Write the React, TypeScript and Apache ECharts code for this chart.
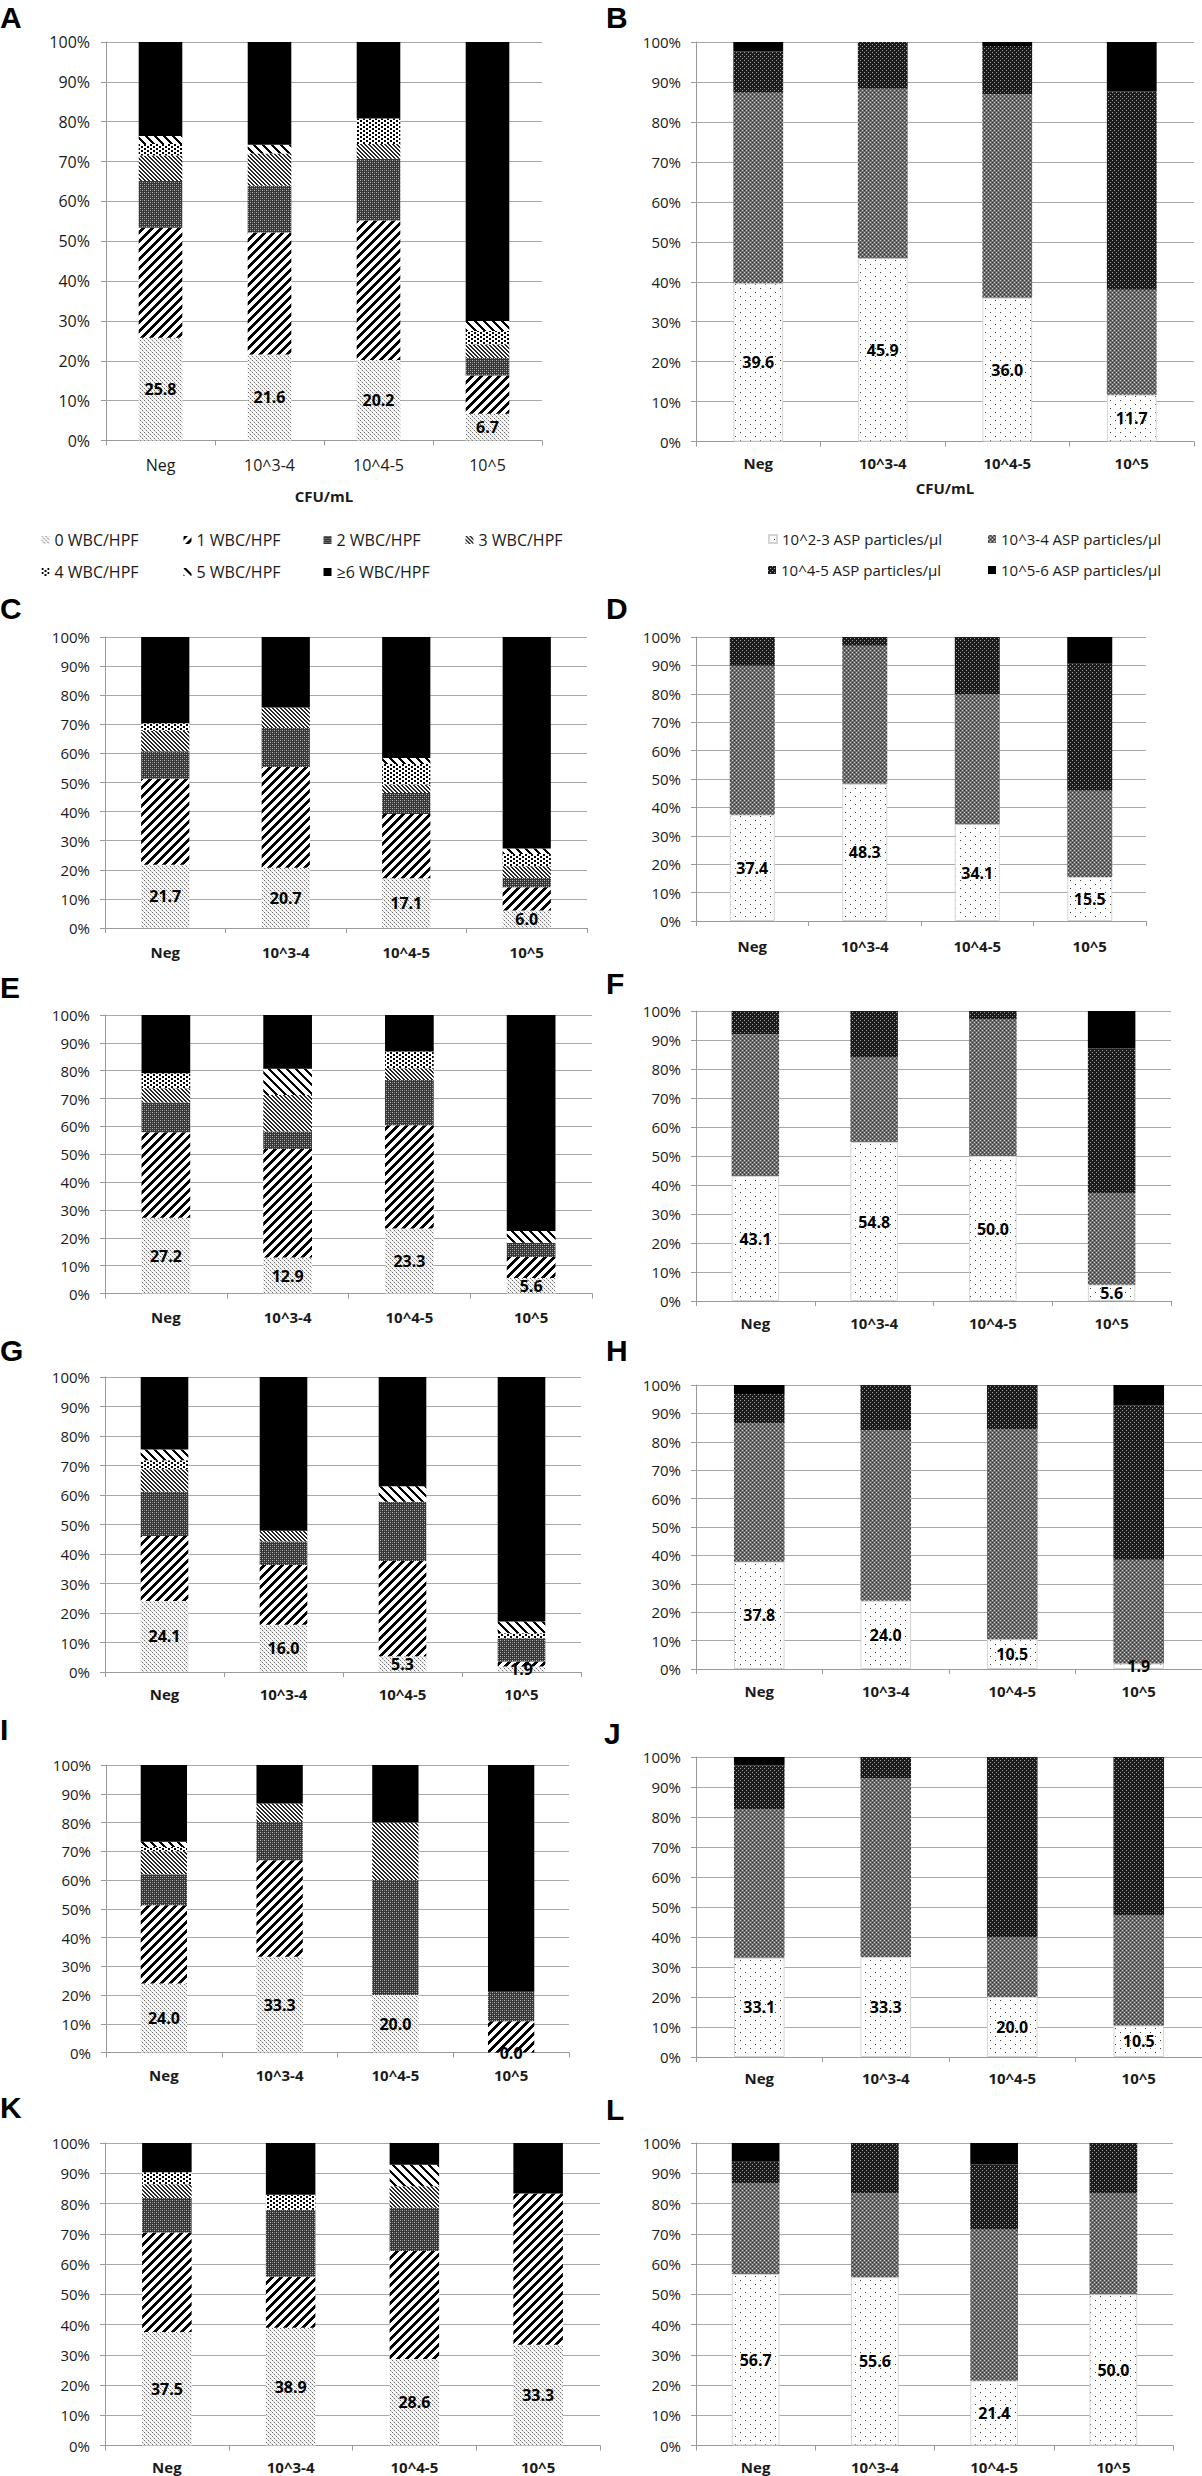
import React, { useEffect, useRef } from "react";
import * as echarts from "echarts";

// ---------- data ----------
const categories = ["Neg", "10^3-4", "10^4-5", "10^5"];
const wbcNames = ["0 WBC/HPF", "1 WBC/HPF", "2 WBC/HPF", "3 WBC/HPF", "4 WBC/HPF", "5 WBC/HPF", "≥6 WBC/HPF"];
const aspNames = ["10^2-3 ASP particles/μl", "10^3-4 ASP particles/μl", "10^4-5 ASP particles/μl", "10^5-6 ASP particles/μl"];

// rows = series (bottom to top), columns = categories
const wbcA = [
  [25.8, 21.6, 20.2, 6.7],
  [27.6, 30.6, 35.0, 9.6],
  [11.7, 11.7, 15.5, 4.4],
  [6.4, 8.1, 3.7, 3.4],
  [2.9, 0, 6.4, 3.4],
  [2.0, 2.2, 0, 2.5],
  [23.6, 25.8, 19.2, 70.0],
];
const aspB = [
  [39.6, 45.9, 36.0, 11.7],
  [47.7, 42.4, 50.9, 26.3],
  [10.3, 11.7, 12.1, 49.6],
  [2.4, 0, 1.0, 12.4],
];
const wbcC = [
  [21.7, 20.7, 17.1, 6.0],
  [29.6, 34.6, 22.1, 8.0],
  [9.4, 13.4, 7.2, 3.2],
  [7.1, 7.1, 2.9, 4.0],
  [2.6, 0, 7.1, 4.2],
  [0, 0, 2.0, 1.9],
  [29.6, 24.2, 41.6, 72.7],
];
const aspD = [
  [37.4, 48.3, 34.1, 15.5],
  [52.5, 48.6, 45.8, 30.4],
  [10.1, 3.1, 20.1, 44.7],
  [0, 0, 0, 9.4],
];
const wbcE = [
  [27.2, 12.9, 23.3, 5.6],
  [30.7, 39.0, 37.1, 7.5],
  [10.7, 6.3, 16.3, 5.1],
  [5.1, 13.1, 4.2, 0],
  [5.4, 0, 6.0, 0],
  [0, 9.4, 0, 4.2],
  [20.9, 19.3, 13.1, 77.6],
];
const aspF = [
  [43.1, 54.8, 50.0, 5.6],
  [48.9, 29.2, 47.2, 31.6],
  [8.0, 16.0, 2.8, 49.9],
  [0, 0, 0, 12.9],
];
const wbcG = [
  [24.1, 16.0, 5.3, 1.9],
  [22.0, 20.3, 32.3, 1.7],
  [15.0, 7.9, 20.1, 7.8],
  [7.6, 3.7, 0, 0],
  [3.1, 0, 0, 1.7],
  [3.6, 0, 5.3, 4.0],
  [24.6, 52.1, 37.0, 82.9],
];
const aspH = [
  [37.8, 24.0, 10.5, 1.9],
  [48.7, 60.1, 74.0, 36.6],
  [10.3, 15.9, 15.5, 54.4],
  [3.2, 0, 0, 7.1],
];
const wbcI = [
  [24.0, 33.3, 20.0, 0.0],
  [27.2, 33.6, 0, 10.9],
  [10.8, 13.3, 40.0, 10.2],
  [8.0, 6.4, 20.0, 0],
  [1.5, 0, 0, 0],
  [1.8, 0, 0, 0],
  [26.7, 13.4, 20.0, 78.9],
];
const aspJ = [
  [33.1, 33.3, 20.0, 10.5],
  [49.5, 59.5, 20.0, 36.7],
  [14.6, 7.2, 60.0, 52.8],
  [2.8, 0, 0, 0],
];
const wbcK = [
  [37.5, 38.9, 28.6, 33.3],
  [32.9, 16.9, 35.7, 50.0],
  [11.4, 22.1, 14.3, 0],
  [4.6, 0, 7.1, 0],
  [3.9, 5.0, 0, 0],
  [0, 0, 7.1, 0],
  [9.7, 17.1, 7.2, 16.7],
];
const aspL = [
  [56.7, 55.6, 21.4, 50.0],
  [30.1, 27.8, 50.0, 33.3],
  [7.0, 16.6, 21.5, 16.7],
  [6.2, 0, 7.1, 0],
];

// ---------- layout ----------
const FONT = '"Open Sans", "Noto Sans", sans-serif';
type Panel = {
  letter: string; kind: "wbc" | "asp"; values: number[][];
  left: number; top: number; width: number; height: number;
  lx: number; ly: number; xm: number; xfs: number; xbold: boolean; yfs: number; ym: number;
};
const panels: Panel[] = [
  { letter: "A", kind: "wbc", values: wbcA, left: 106, top: 42, width: 436, height: 398.5, lx: 0, ly: 17.5, xm: 16, xfs: 16, xbold: false, yfs: 16, ym: 16 },
  { letter: "B", kind: "asp", values: aspB, left: 696, top: 42, width: 498, height: 399.6, lx: 606, ly: 17.5, xm: 14, xfs: 15, xbold: true, yfs: 15, ym: 15 },
  { letter: "C", kind: "wbc", values: wbcC, left: 105, top: 637, width: 482, height: 291, lx: 0, ly: 608.5, xm: 16, xfs: 15, xbold: true, yfs: 15, ym: 15 },
  { letter: "D", kind: "asp", values: aspD, left: 696, top: 637, width: 450, height: 284, lx: 606, ly: 608.5, xm: 17, xfs: 15, xbold: true, yfs: 15, ym: 15 },
  { letter: "E", kind: "wbc", values: wbcE, left: 105, top: 1015, width: 487, height: 278.5, lx: 0, ly: 987, xm: 16, xfs: 15, xbold: true, yfs: 15, ym: 15 },
  { letter: "F", kind: "asp", values: aspF, left: 696, top: 1011, width: 475, height: 290, lx: 606, ly: 983, xm: 14.5, xfs: 15, xbold: true, yfs: 15, ym: 15 },
  { letter: "G", kind: "wbc", values: wbcG, left: 105, top: 1377, width: 476, height: 295, lx: 0, ly: 1350, xm: 14.5, xfs: 15, xbold: true, yfs: 15, ym: 15 },
  { letter: "H", kind: "asp", values: aspH, left: 696, top: 1385, width: 506, height: 284, lx: 606, ly: 1350, xm: 14.5, xfs: 15, xbold: true, yfs: 15, ym: 15 },
  { letter: "I", kind: "wbc", values: wbcI, left: 106, top: 1765, width: 463, height: 287.5, lx: 0, ly: 1729, xm: 15, xfs: 15, xbold: true, yfs: 15, ym: 15 },
  { letter: "J", kind: "asp", values: aspJ, left: 696, top: 1757, width: 506, height: 300, lx: 604, ly: 1733, xm: 13.5, xfs: 15, xbold: true, yfs: 15, ym: 15 },
  { letter: "K", kind: "wbc", values: wbcK, left: 105, top: 2143, width: 495, height: 302.5, lx: 0, ly: 2107.5, xm: 14, xfs: 15, xbold: true, yfs: 15, ym: 15 },
  { letter: "L", kind: "asp", values: aspL, left: 696, top: 2143, width: 477, height: 302.5, lx: 606, ly: 2109, xm: 14, xfs: 15, xbold: true, yfs: 15, ym: 15 },
];

function pixelPattern(w: number, h: number, fn: (x: number, y: number) => string) {
  const c = document.createElement("canvas");
  c.width = w;
  c.height = h;
  const ctx = c.getContext("2d")!;
  for (let y = 0; y < h; y++) {
    for (let x = 0; x < w; x++) {
      ctx.fillStyle = fn(x, y);
      ctx.fillRect(x, y, 1, 1);
    }
  }
  return { image: c.toDataURL(), repeat: "repeat", imageWidth: w, imageHeight: h } as any;
}

function buildPatterns() {
  const wbc = [
    // light gray dotted (0)
    pixelPattern(4, 4, (x, y) => ((y % 2 === 0 && x === (y % 4 === 0 ? 0 : 2)) ? "#6e6e6e" : (y % 2 === 1 && x === (y % 4 === 1 ? 1 : 3)) ? "#c4c4c4" : "#f6f6f6")),
    // wide upward diagonal (1)
    pixelPattern(9, 9, (x, y) => ((x + y) % 9 < 4 ? "#000000" : "#ffffff")),
    // dark check (2)
    pixelPattern(4, 4, (x, y) => (x % 2 === 0 && y % 2 === 0 ? ((x + y) % 4 === 0 ? "#bdbdbd" : "#7a7a7a") : "#353535")),
    // fine downward diagonal (3)
    pixelPattern(4, 4, (x, y) => ((x - y + 8) % 4 < 2 ? "#262626" : "#ffffff")),
    // large dots (4)
    pixelPattern(6, 4, (x, y) => ((x < 2 && y < 2) || (x >= 3 && x < 5 && y >= 2) ? "#000000" : "#ffffff")),
    // wide downward diagonal (5)
    pixelPattern(9, 9, (x, y) => ((x - y + 18) % 9 < 3 ? "#000000" : "#ffffff")),
    "#000000",
  ];
  const asp = [
    pixelPattern(10, 8, (x, y) => ((x === 0 && y === 0) || (x === 5 && y === 4) ? "#3c3c3c" : "#ffffff")),
    pixelPattern(4, 4, (x, y) => (x % 2 === 0 && y % 2 === 0 ? ((x + y) % 4 === 0 ? "#cfcfcf" : "#363636") : "#6c6c6c")),
    pixelPattern(4, 4, (x, y) => (x % 2 === 0 && y % 2 === 0 && (x + y) % 4 === 0 ? "#a0a0a0" : "#1c1c1c")),
    "#000000",
  ];
  return { wbc, asp };
}

export default function App() {
  const ref = useRef<HTMLDivElement>(null);
  useEffect(() => {
    document.body.style.margin = "0";
    const chart = echarts.init(ref.current!, null, { renderer: "svg" });
    const pats = buildPatterns();
    const grids: any[] = [];
    const xAxes: any[] = [];
    const yAxes: any[] = [];
    const series: any[] = [];
    const graphics: any[] = [];
    const axisColor = "#9a9a9a";

    panels.forEach((p, i) => {
      grids.push({ left: p.left, top: p.top, width: p.width, height: p.height, containLabel: false });
      xAxes.push({
        type: "category", gridIndex: i, data: categories, boundaryGap: true,
        axisLine: { show: true, lineStyle: { color: axisColor, width: 1 } },
        axisTick: { show: true, length: 5, alignWithLabel: false, lineStyle: { color: axisColor } },
        axisLabel: { interval: 0, margin: p.xm, fontSize: p.xfs, fontWeight: p.xbold ? "bold" : "normal", color: "#1a1a1a", fontFamily: FONT },
      });
      yAxes.push({
        type: "value", gridIndex: i, min: 0, max: 100, interval: 10,
        axisLine: { show: true, lineStyle: { color: axisColor, width: 1 } },
        axisTick: { show: true, length: 5, lineStyle: { color: axisColor } },
        splitLine: { show: true, lineStyle: { color: "#a8a8a8", width: 1 } },
        axisLabel: { formatter: "{value}%", margin: p.ym, fontSize: p.yfs, color: "#1a1a1a", fontFamily: FONT },
      });
      const names = p.kind === "wbc" ? wbcNames : aspNames;
      const pp = p.kind === "wbc" ? pats.wbc : pats.asp;
      p.values.forEach((vals, k) => {
        const isWhite = p.kind === "asp" && k === 0;
        series.push({
          type: "bar", name: names[k], xAxisIndex: i, yAxisIndex: i, stack: "st" + i,
          barWidth: "40%", data: vals,
          itemStyle: { color: pp[k], borderColor: isWhite ? "#d4d4d4" : undefined, borderWidth: isWhite ? 1 : 0 },
          label: k === 0
            ? { show: true, position: "inside", formatter: (q: any) => Number(q.value).toFixed(1), color: "#000", fontWeight: "bold", fontSize: 16, fontFamily: FONT, textBorderWidth: 0 }
            : { show: false },
          emphasis: { disabled: true },
        });
      });
      graphics.push({
        type: "text", x: p.lx, y: p.ly,
        style: { text: p.letter, font: 'bold 30px "Liberation Sans", Arial, sans-serif', fill: "#000", textVerticalAlign: "middle", verticalAlign: "middle" },
      });
    });

    graphics.push({ type: "text", x: 324, y: 496, style: { text: "CFU/mL", font: 'bold 15px "Open Sans", sans-serif', fill: "#1a1a1a", textAlign: "center", align: "center", textVerticalAlign: "middle", verticalAlign: "middle" } });
    graphics.push({ type: "text", x: 945, y: 488, style: { text: "CFU/mL", font: 'bold 15px "Open Sans", sans-serif', fill: "#1a1a1a", textAlign: "center", align: "center", textVerticalAlign: "middle", verticalAlign: "middle" } });

    const legendA = [[41.5, 532], [183.5, 532], [323.5, 532], [465.5, 532], [41.5, 564], [183.5, 564], [323.5, 564]];
    const legendB = [[768, 531.5], [988, 531.5], [768, 562.5], [988, 562.5]];
    const legends: any[] = [];
    wbcNames.forEach((n, k) => {
      legends.push({ data: [n], left: legendA[k][0], top: legendA[k][1], padding: 0, itemWidth: 8, itemHeight: 8, itemGap: 0, icon: "rect", selectedMode: false, textStyle: { fontSize: 16, fontFamily: FONT, color: "#1a1a1a" } });
    });
    aspNames.forEach((n, k) => {
      legends.push({ data: [n], left: legendB[k][0], top: legendB[k][1], padding: 0, itemWidth: 8, itemHeight: 8, itemGap: 0, icon: "rect", selectedMode: false, textStyle: { fontSize: 15, fontFamily: FONT, color: "#1a1a1a" } });
    });

    chart.setOption({
      animation: false,
      backgroundColor: "#ffffff",
      grid: grids,
      xAxis: xAxes,
      yAxis: yAxes,
      series,
      legend: legends,
      graphic: graphics,
    });
    return () => chart.dispose();
  }, []);
  return <div ref={ref} style={{ width: 1202, height: 2476 }} />;
}
